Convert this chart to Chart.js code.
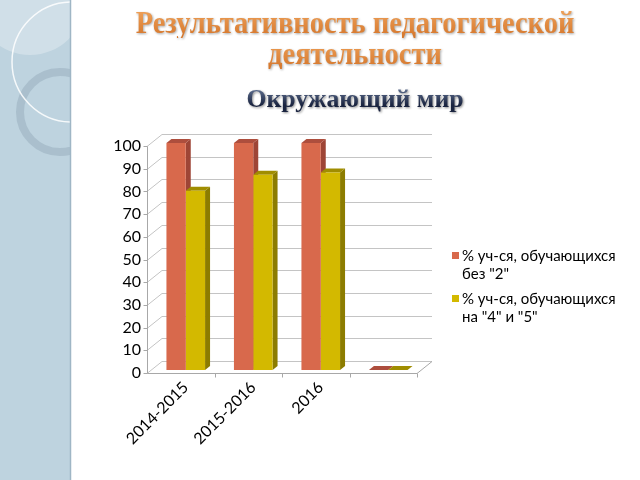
<!DOCTYPE html>
<html lang="ru">
<head>
<meta charset="utf-8">
<script src="https://cdn.jsdelivr.net/npm/chart.js@4.4.1/dist/chart.umd.min.js"></script>
<style>
html,body{margin:0;padding:0;background:#fff;}
#slide{position:relative;width:640px;height:480px;overflow:hidden;background:#fff;}
#stripe{position:absolute;left:0;top:0;}
.t{position:absolute;left:70px;width:570px;text-align:center;font-family:"Liberation Serif","Times New Roman",serif;white-space:nowrap;}
.orange{font-weight:bold;font-size:32px;line-height:32px;transform:scaleX(0.89);background:linear-gradient(#f3a860,#d4752a);-webkit-background-clip:text;background-clip:text;color:transparent;filter:drop-shadow(1px 1px 1px rgba(0,0,0,.35));}
#t3{font-weight:bold;font-size:26px;line-height:30px;transform:scaleX(0.99);background:linear-gradient(#7386a8,#1a2440 70%);-webkit-background-clip:text;background-clip:text;color:transparent;filter:drop-shadow(1px 1px 1px rgba(0,0,0,.45));}
#chart{position:absolute;left:0;top:0;}
#legend{position:absolute;left:452px;top:246px;font-family:Lato,"Open Sans",sans-serif;font-size:15px;line-height:18px;color:#000;}
#legend .item{position:relative;padding-left:10px;margin-bottom:7px;}
#legend .box{position:absolute;left:0;top:6px;width:7px;height:7px;}
</style>
</head>
<body>
<div id="slide">
  <svg id="stripe" width="72" height="480">
    <defs><clipPath id="cl"><rect x="0" y="0" width="70" height="480"/></clipPath></defs>
    <rect x="0" y="0" width="70" height="480" fill="#bed3df"/>
    <g clip-path="url(#cl)">
      <circle cx="30" cy="0" r="55" fill="rgba(255,255,255,0.28)"/>
      <circle cx="60" cy="112" r="40" fill="none" stroke="rgba(150,172,188,0.5)" stroke-width="8"/>
      <circle cx="72" cy="62" r="60" fill="none" stroke="rgba(255,255,255,0.85)" stroke-width="1.5"/>
    </g>
    <line x1="70.5" y1="0" x2="70.5" y2="480" stroke="#9fb6c5" stroke-width="1.5"/>
  </svg>
  <div class="t orange" style="top:6px">Результативность педагогической</div>
  <div class="t orange" style="top:37px">деятельности</div>
  <div class="t" id="t3" style="top:84px">Окружающий мир</div>
  <canvas id="chart" width="640" height="480"></canvas>
  <div id="legend"></div>
</div>
<script>
// data
const categories = ['2014-2015', '2015-2016', '2016', ''];
const seriesNames = ['% уч-ся, обучающихся без "2"', '% уч-ся, обучающихся на "4" и "5"'];
const noTwos = [100, 100, 100, 0];
const fourFive = [79, 86, 87, 0];
const yTicks = [0, 10, 20, 30, 40, 50, 60, 70, 80, 90, 100];

// styles
const FRONT_COLORS = ['#d8694c', '#d3b900'];
const SIDE_COLORS = ['#9e4536', '#8c7c00'];
const TOP_COLORS = ['#ad4e3d', '#a08d00'];
const BAR_D = [5, -4];      // bar depth
const WALL_FRONT = [-5, 3]; // front edge of floor / axis
const WALL_BACK = [10, -9]; // back wall

const depth3d = {
  id: 'depth3d',
  beforeDatasetsDraw(chart){
    const {ctx, chartArea: a, scales: {x, y}} = chart;
    ctx.save();
    ctx.lineWidth = 1;
    // back wall grid lines
    ctx.strokeStyle = '#c4c4c4';
    y.ticks.forEach(t => {
      const py = Math.round(y.getPixelForValue(t.value)) + 0.5;
      ctx.beginPath();
      ctx.moveTo(a.left + WALL_FRONT[0], py + WALL_FRONT[1]);
      ctx.lineTo(a.left + WALL_BACK[0], py + WALL_BACK[1]);
      ctx.lineTo(a.right + WALL_BACK[0], py + WALL_BACK[1]);
      ctx.stroke();
    });
    // front axis with ticks
    ctx.strokeStyle = '#a8a8a8';
    const y0 = Math.round(y.getPixelForValue(0)) + 0.5;
    const yTop = Math.round(y.getPixelForValue(100)) + 0.5;
    const fx = Math.round(a.left + WALL_FRONT[0]) + 0.5;
    ctx.beginPath();
    ctx.moveTo(fx, yTop + WALL_FRONT[1]); ctx.lineTo(fx, y0 + WALL_FRONT[1]);
    y.ticks.forEach(t => {
      const py = Math.round(y.getPixelForValue(t.value)) + 0.5 + WALL_FRONT[1];
      ctx.moveTo(fx - 4, py); ctx.lineTo(fx, py);
    });
    // floor front edge and right edge
    ctx.moveTo(fx, y0 + WALL_FRONT[1]);
    ctx.lineTo(a.right + WALL_FRONT[0], y0 + WALL_FRONT[1]);
    ctx.lineTo(a.right + WALL_BACK[0], y0 + WALL_BACK[1]);
    // category ticks
    const cw = (a.right - a.left) / categories.length;
    for(let i = 1; i <= categories.length; i++){
      const px = Math.round(a.left + i * cw + WALL_FRONT[0]) + 0.5;
      ctx.moveTo(px, y0 + WALL_FRONT[1]); ctx.lineTo(px, y0 + WALL_FRONT[1] + 4);
    }
    ctx.stroke();
    // bar sides and tops, fronts are drawn by chart.js afterwards
    [0, 1].forEach(di => {
      chart.getDatasetMeta(di).data.forEach(bar => {
        const p = bar.getProps(['x', 'y', 'base', 'width'], true);
        const x1 = p.x - p.width / 2, x2 = p.x + p.width / 2;
        ctx.fillStyle = SIDE_COLORS[di];
        ctx.beginPath();
        ctx.moveTo(x2, p.y); ctx.lineTo(x2 + BAR_D[0], p.y + BAR_D[1]);
        ctx.lineTo(x2 + BAR_D[0], p.base + BAR_D[1]); ctx.lineTo(x2, p.base);
        ctx.closePath(); ctx.fill();
        ctx.fillStyle = TOP_COLORS[di];
        ctx.beginPath();
        ctx.moveTo(x1, p.y); ctx.lineTo(x2, p.y);
        ctx.lineTo(x2 + BAR_D[0], p.y + BAR_D[1]); ctx.lineTo(x1 + BAR_D[0], p.y + BAR_D[1]);
        ctx.closePath(); ctx.fill();
      });
    });
    ctx.restore();
  }
};

const tickFont = { family: 'Lato', size: 16 };
new Chart(document.getElementById('chart').getContext('2d'), {
  type: 'bar',
  data: {
    labels: categories,
    datasets: [
      { label: seriesNames[0], data: noTwos, backgroundColor: FRONT_COLORS[0] },
      { label: seriesNames[1], data: fourFive, backgroundColor: FRONT_COLORS[1] }
    ]
  },
  options: {
    responsive: false, animation: false,
    categoryPercentage: 0.572, barPercentage: 1,
    layout: { padding: { left: 100, right: 218, top: 143, bottom: 10 } },
    plugins: { legend: { display: false }, tooltip: { enabled: false } },
    scales: {
      x: {
        grid: { display: false, drawTicks: false }, border: { display: false },
        ticks: { color: '#000', font: tickFont, minRotation: 45, maxRotation: 45, autoSkip: false, padding: 8 },
        afterFit: s => { s.height = 100; }
      },
      y: {
        min: 0, max: 100,
        afterBuildTicks: s => { s.ticks = yTicks.map(v => ({ value: v })); },
        grid: { display: false, drawTicks: false }, border: { display: false },
        ticks: { color: '#000', font: tickFont, padding: 11, labelOffset: 3 },
        afterFit: s => { s.width = 52; }
      }
    }
  },
  plugins: [depth3d]
});

// legend
const legendEl = document.getElementById('legend');
seriesNames.forEach((n, i) => {
  const words = n.split(' ');
  const item = document.createElement('div');
  item.className = 'item';
  item.innerHTML = `<span class="box" style="background:${FRONT_COLORS[i]}"></span>${words.slice(0, 3).join(' ')}<br>${words.slice(3).join(' ')}`;
  legendEl.appendChild(item);
});
</script>
</body>
</html>
